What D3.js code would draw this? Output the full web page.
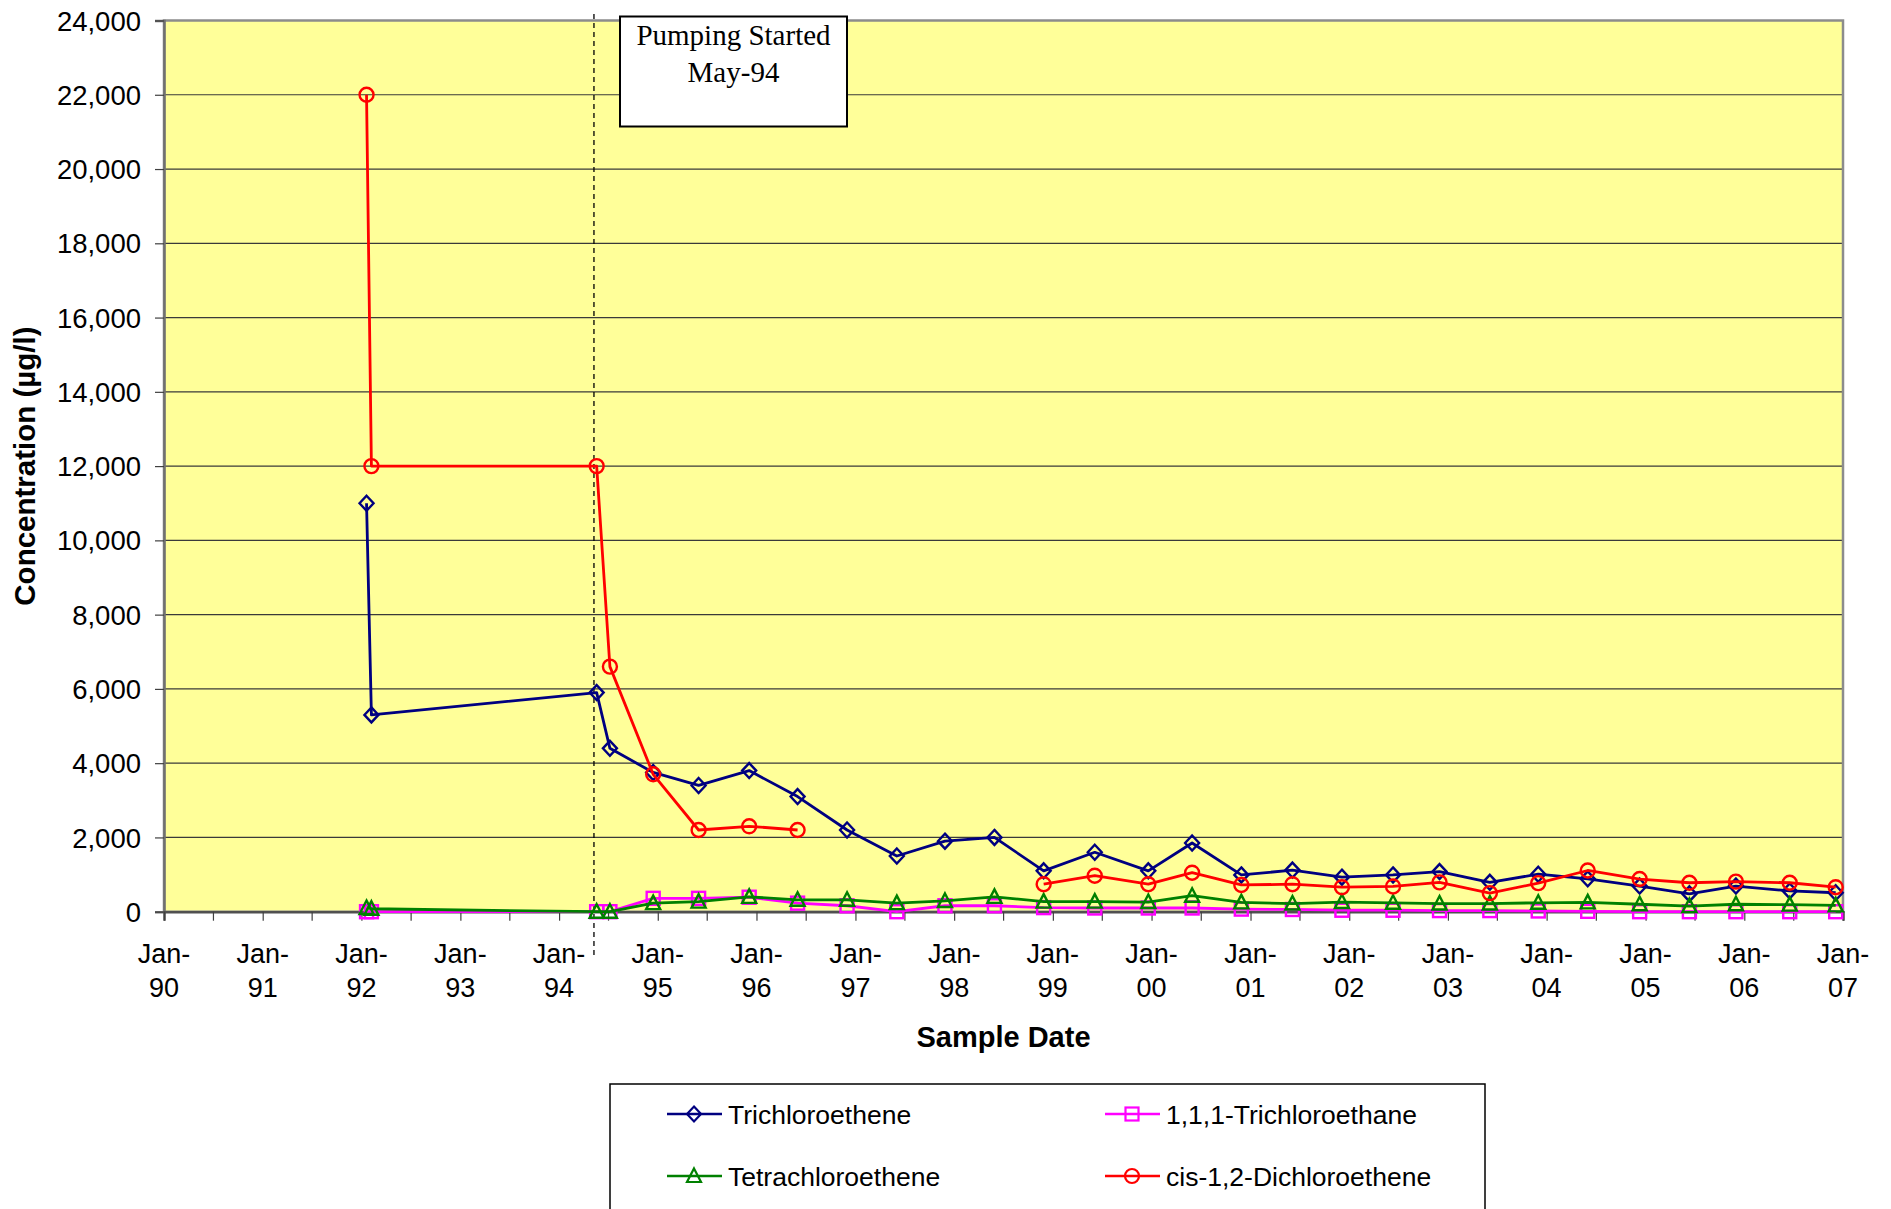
<!DOCTYPE html>
<html>
<head>
<meta charset="utf-8">
<script src="https://cdn.jsdelivr.net/npm/d3@7/dist/d3.min.js"></script>
<style>
  html, body { margin: 0; padding: 0; background: #ffffff; }
  svg { display: block; }
</style>
</head>
<body>
<svg id="chart" width="1891" height="1209"></svg>
<script>
// ---------------- DATA ----------------
const sampleDates = [
  "1992-01-20", "1992-02-07", "1994-05-20", "1994-07-08", "1994-12-15",
  "1995-06-01", "1995-12-05", "1996-06-01", "1996-12-01", "1997-06-03",
  "1997-11-28", "1998-05-30", "1998-11-28", "1999-06-05", "1999-12-20",
  "2000-05-30", "2000-11-28", "2001-06-05", "2001-12-05", "2002-06-12",
  "2002-12-01", "2003-06-05", "2003-12-01", "2004-06-01", "2004-12-10",
  "2005-06-12", "2005-12-01", "2006-06-18", "2006-12-05"
];
const trichloroethene = [
  11000, 5300, 5900, 4400, 3750, 3400, 3800, 3100, 2200, 1500,
  1900, 2000, 1100, 1600, 1100, 1850, 990, 1120, 930, 990,
  1080, 790, 1010, 885, 690, 480, 690, 560, 510
];
const trichloroethane111 = [
  0, 0, 0, 0, 360, 360, 390, 230, 160, 0,
  160, 160, 110, 100, 100, 100, 70, 60, 40, 40,
  30, 30, 20, 10, 0, 0, 0, 0, 0
];
const tetrachloroethene = [
  100, 80, 0, 0, 230, 270, 400, 320, 320, 230,
  290, 400, 270, 270, 260, 430, 250, 220, 260, 240,
  220, 220, 240, 250, 200, 150, 200, 190, 170
];
const cisDichloroethene = [
  22000, 12000, 12000, 6600, 3700, 2200, 2300, 2200, null, null,
  null, null, 740, 970, 740, 1050, 720, 740, 660, 680,
  790, 500, 770, 1110, 880, 780, 810, 780, 660
];
const seriesNames = ["Trichloroethene", "1,1,1-Trichloroethane", "Tetrachloroethene", "cis-1,2-Dichloroethene"];
const yTickValues = [0, 2000, 4000, 6000, 8000, 10000, 12000, 14000, 16000, 18000, 20000, 22000, 24000];
const xTickLabels = ["Jan-90","Jan-91","Jan-92","Jan-93","Jan-94","Jan-95","Jan-96","Jan-97","Jan-98",
                     "Jan-99","Jan-00","Jan-01","Jan-02","Jan-03","Jan-04","Jan-05","Jan-06","Jan-07"];
const xTickDates = ["1990-01-01","1991-01-01","1992-01-01","1993-01-01","1994-01-01","1995-01-01",
                    "1996-01-01","1997-01-01","1998-01-01","1999-01-01","2000-01-01","2001-01-01",
                    "2002-01-01","2003-01-01","2004-01-01","2005-01-01","2006-01-01","2007-01-01"];
const pumpingStartDate = "1994-05-10";
const annotationLines = ["Pumping Started", "May-94"];
const xTitle = "Sample Date";
const yTitle = "Concentration (\u00b5g/l)";

// ---------------- LAYOUT ----------------
const parse = d3.timeParse("%Y-%m-%d");
const L = 164, R = 1843, T = 20.5, B = 911.7;
const svg = d3.select("#chart");
const sans = "'Liberation Sans', Arial, sans-serif";
const serif = "'Liberation Serif', 'Times New Roman', serif";

const x = d3.scaleTime()
  .domain([parse(xTickDates[0]), parse(xTickDates[xTickDates.length - 1])])
  .range([L, R]);
const y = d3.scaleLinear().domain([0, 24000]).range([B, T]);

// plot background
svg.append("rect")
  .attr("x", L).attr("y", T).attr("width", R - L).attr("height", B - T)
  .attr("fill", "#FFFF99");

// gridlines
svg.append("g").selectAll("line")
  .data(yTickValues.filter(v => v > 0 && v < 24000))
  .join("line")
  .attr("x1", L).attr("x2", R)
  .attr("y1", d => y(d)).attr("y2", d => y(d))
  .attr("stroke", "#3a3a3a").attr("stroke-width", 1.2);

// plot border
svg.append("rect")
  .attr("x", L).attr("y", T).attr("width", R - L).attr("height", B - T)
  .attr("fill", "none").attr("stroke", "#8c8c8c").attr("stroke-width", 2.5);

// y axis
const yAxis = svg.append("g")
  .attr("transform", `translate(${L},0)`)
  .call(d3.axisLeft(y).tickValues(yTickValues).tickSize(9).tickPadding(14)
        .tickFormat(d3.format(",")));
yAxis.select(".domain").attr("stroke", "#707070").attr("stroke-width", 2.5);
yAxis.selectAll(".tick line").attr("stroke", "#404040").attr("stroke-width", 1.2);
yAxis.selectAll(".tick text")
  .attr("font-family", sans).attr("font-size", 27.5).attr("fill", "#000")
  .attr("dy", "0.35em");

// x axis (half-year ticks)
const halfYears = d3.timeMonth.every(6).range(parse(xTickDates[0]), d3.timeDay.offset(parse(xTickDates[xTickDates.length - 1]), 1));
const xAxis = svg.append("g")
  .attr("transform", `translate(0,${B})`)
  .call(d3.axisBottom(x).tickValues(halfYears).tickSize(9).tickFormat(""));
xAxis.select(".domain").attr("stroke", "#505050").attr("stroke-width", 2.5);
xAxis.selectAll(".tick line").attr("stroke", "#404040").attr("stroke-width", 1.2);

// x tick labels (two lines)
const xl = svg.append("g").selectAll("text")
  .data(xTickDates.map((d, i) => ({ date: parse(d), label: xTickLabels[i] })))
  .join("text")
  .attr("font-family", sans).attr("font-size", 27).attr("fill", "#000")
  .attr("text-anchor", "middle");
xl.append("tspan").attr("x", d => x(d.date)).attr("y", 962.5).text(d => d.label.split("-")[0] + "-");
xl.append("tspan").attr("x", d => x(d.date)).attr("y", 997).text(d => d.label.split("-")[1]);

// axis titles
svg.append("text")
  .attr("x", (L + R) / 2).attr("y", 1046.5)
  .attr("text-anchor", "middle")
  .attr("font-family", sans).attr("font-weight", "bold").attr("font-size", 29)
  .text(xTitle);
svg.append("text")
  .attr("transform", `translate(35,${(T + B) / 2}) rotate(-90)`)
  .attr("text-anchor", "middle")
  .attr("font-family", sans).attr("font-weight", "bold").attr("font-size", 29.5)
  .text(yTitle);

// pumping start dashed line
svg.append("line")
  .attr("x1", x(parse(pumpingStartDate))).attr("x2", x(parse(pumpingStartDate)))
  .attr("y1", 14).attr("y2", 956)
  .attr("stroke", "#000").attr("stroke-width", 1.3).attr("stroke-dasharray", "5,4");

// annotation box
svg.append("rect")
  .attr("x", 620).attr("y", 16.5).attr("width", 227).attr("height", 110)
  .attr("fill", "#fff").attr("stroke", "#000").attr("stroke-width", 2);
svg.append("g").selectAll("text")
  .data(annotationLines)
  .join("text")
  .attr("x", 733.5).attr("y", (d, i) => 45 + i * 37)
  .attr("text-anchor", "middle")
  .attr("font-family", serif).attr("font-size", 29).attr("fill", "#000")
  .text(d => d);

// ---------------- SERIES ----------------
const markerR = 7;
const markers = {
  diamond: g => g.append("path").attr("d", `M0,${-markerR - 0.5}L${markerR},0L0,${markerR + 0.5}L${-markerR},0Z`),
  square: g => g.append("rect").attr("x", -6.5).attr("y", -6.5).attr("width", 13).attr("height", 13),
  triangle: g => g.append("path").attr("d", `M0,${-7.5}L${7},${6}L${-7},${6}Z`),
  circle: g => g.append("circle").attr("r", markerR)
};
const series = [
  { name: seriesNames[0], values: trichloroethene, color: "#000080", marker: "diamond" },
  { name: seriesNames[1], values: trichloroethane111, color: "#FF00FF", marker: "square" },
  { name: seriesNames[2], values: tetrachloroethene, color: "#008000", marker: "triangle" },
  { name: seriesNames[3], values: cisDichloroethene, color: "#FF0000", marker: "circle" }
];

const line = d3.line()
  .defined(d => d.v !== null)
  .x(d => x(d.date)).y(d => y(d.v));

series.forEach(s => {
  const pts = sampleDates.map((d, i) => ({ date: parse(d), v: s.values[i] }));
  const g = svg.append("g");
  g.append("path")
    .datum(pts)
    .attr("d", line)
    .attr("fill", "none").attr("stroke", s.color).attr("stroke-width", 2.8)
    .attr("stroke-linejoin", "round");
  pts.filter(p => p.v !== null).forEach(p => {
    const mg = g.append("g").attr("transform", `translate(${x(p.date)},${y(p.v)})`)
      .attr("fill", "none").attr("stroke", s.color).attr("stroke-width", 2.4);
    markers[s.marker](mg);
  });
});

// ---------------- LEGEND ----------------
svg.append("rect")
  .attr("x", 610).attr("y", 1084).attr("width", 875).attr("height", 140)
  .attr("fill", "#fff").attr("stroke", "#000").attr("stroke-width", 1.5);
const legendPos = [
  { lx: 667, ty: 1114 }, { lx: 1105, ty: 1114 },
  { lx: 667, ty: 1176 }, { lx: 1105, ty: 1176 }
];
series.forEach((s, i) => {
  const p = legendPos[i];
  const g = svg.append("g");
  g.append("line").attr("x1", p.lx).attr("x2", p.lx + 55)
    .attr("y1", p.ty).attr("y2", p.ty)
    .attr("stroke", s.color).attr("stroke-width", 2.6);
  const mg = g.append("g").attr("transform", `translate(${p.lx + 27},${p.ty})`)
    .attr("fill", "none").attr("stroke", s.color).attr("stroke-width", 2.2);
  markers[s.marker](mg);
  g.append("text").attr("x", p.lx + 61).attr("y", p.ty + 10)
    .attr("font-family", sans).attr("font-size", 26.5).attr("fill", "#000")
    .text(s.name);
});
</script>
</body>
</html>
